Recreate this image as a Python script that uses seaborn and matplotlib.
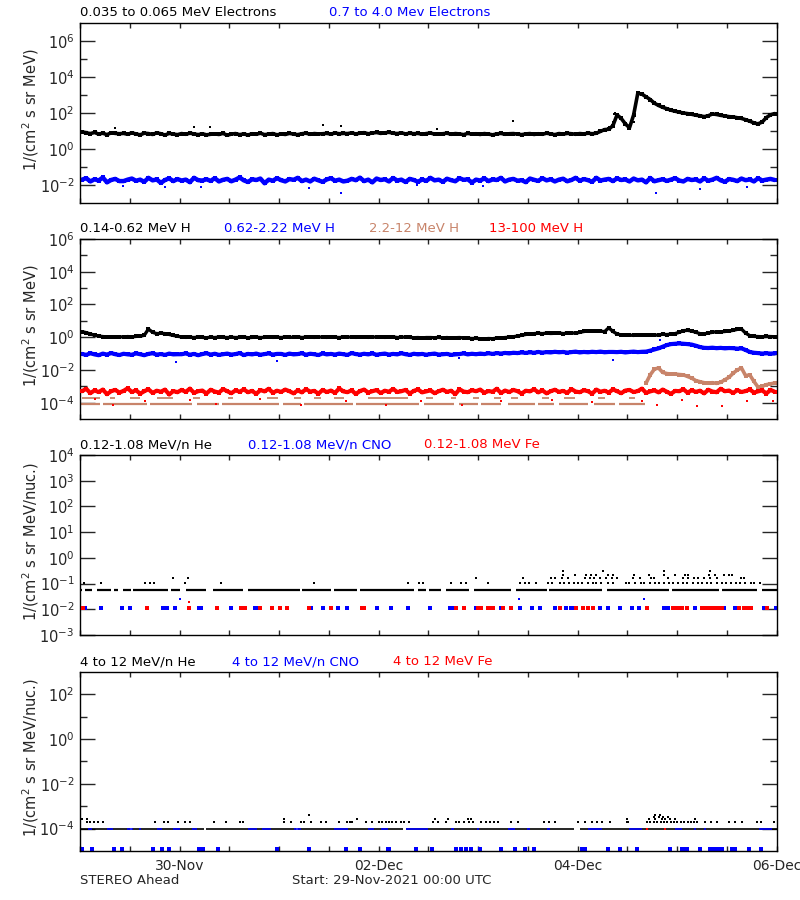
import numpy as np
import pandas as pd
import seaborn as sns
import matplotlib.pyplot as plt
from matplotlib.ticker import FixedLocator, NullFormatter, LogFormatterSciNotation

# hours since 29-Nov-2021 00:00 UTC, 7 days shown
tick_hours = [24, 72, 120, 168]
tick_labels = ["30-Nov", "02-Dec", "04-Dec", "06-Dec"]

# ---- panel 1: electrons, hourly log10 flux ----
e_low = [0.95, 0.9, 0.86, 0.92, 0.83, 0.88, 0.8, 0.9, 0.87, 0.85, 0.87, 0.82,
         0.9, 0.84, 0.79, 0.88, 0.86, 0.81, 0.9, 0.85, 0.78, 0.87, 0.83, 0.8,
         0.86, 0.82, 0.88, 0.84, 0.8, 0.85, 0.79, 0.82, 0.84, 0.81, 0.87, 0.77,
         0.83, 0.86, 0.8, 0.84, 0.78, 0.85, 0.82, 0.88, 0.8, 0.83, 0.86, 0.79,
         0.84, 0.81, 0.87, 0.83, 0.8, 0.85, 0.88, 0.82, 0.86, 0.84, 0.85, 0.87,
         0.83, 0.89, 0.85, 0.87, 0.86, 0.9, 0.84, 0.88, 0.91, 0.85, 0.89, 0.92,
         0.87, 0.9, 0.93, 0.88, 0.86, 0.9, 0.84, 0.88, 0.85, 0.87, 0.82, 0.86,
         0.89, 0.83, 0.84, 0.85, 0.88, 0.82, 0.86, 0.84, 0.8, 0.87, 0.83, 0.85,
         0.81, 0.86, 0.83, 0.79, 0.84, 0.87, 0.82, 0.85, 0.86, 0.83, 0.8, 0.84,
         0.86, 0.81, 0.85, 0.82, 0.88, 0.84, 0.8, 0.86, 0.83, 0.87, 0.85, 0.82,
         0.86, 0.84, 0.88, 0.85,
         0.88, 0.98, 1.08, 1.1, 1.3, 1.9, 1.7, 1.4, 1.18, 1.9,
         3.1, 3.05, 2.9, 2.75, 2.55, 2.42, 2.32, 2.24, 2.16, 2.1,
         2.05, 2.0, 1.97, 1.93, 1.88, 1.85, 1.8, 1.85, 1.95, 1.92,
         1.87, 1.84, 1.8, 1.78, 1.74, 1.7, 1.63, 1.55, 1.45, 1.4,
         1.5, 1.75, 1.9, 1.97]
e_low_out_h = [8.5, 27.5, 31.3, 58.5, 62.9, 86, 104.3,
               127.6, 128.6, 128.8, 129.1, 131.9, 133.7, 133.9, 134.1, 134.3]
e_low_out_v = [1.19, 1.24, 1.2, 1.32, 1.3, 1.1, 1.54,
               1.2, 1.5, 1.95, 2.0, 1.3, 1.5, 2.2, 2.7, 3.0]

e_high = [-1.7, -1.62, -1.8, -1.68, -1.75, -1.58, -1.85, -1.72, -1.66, -1.78, -1.78, -1.7,
          -1.64, -1.76, -1.7, -1.82, -1.6, -1.74, -1.69, -1.88, -1.72, -1.63, -1.78, -1.67,
          -1.75, -1.7, -1.84, -1.6, -1.73, -1.75, -1.68, -1.77, -1.62, -1.8, -1.71, -1.66,
          -1.79, -1.7, -1.58, -1.74, -1.83, -1.68, -1.72, -1.64, -1.9, -1.7, -1.76, -1.62,
          -1.73, -1.8, -1.67, -1.71, -1.6, -1.78, -1.7, -1.8, -1.65, -1.74, -1.82, -1.69,
          -1.62, -1.76, -1.7, -1.8, -1.76, -1.66, -1.73, -1.59, -1.78, -1.7, -1.85, -1.64,
          -1.72, -1.68, -1.8, -1.61, -1.75, -1.7, -1.83, -1.66, -1.72, -1.82, -1.69, -1.77,
          -1.6, -1.74, -1.7, -1.82, -1.65, -1.73, -1.79, -1.62, -1.71, -1.68, -1.86, -1.7,
          -1.75, -1.63, -1.78, -1.69, -1.72, -1.6, -1.8, -1.7, -1.66, -1.76, -1.73, -1.84,
          -1.64, -1.71, -1.77, -1.62, -1.74, -1.68, -1.8, -1.7, -1.65, -1.79, -1.72, -1.6,
          -1.76, -1.67, -1.73, -1.82, -1.6, -1.75, -1.7, -1.66, -1.78, -1.63, -1.72, -1.69,
          -1.8, -1.64, -1.74, -1.7, -1.85, -1.61, -1.79, -1.73, -1.68, -1.77, -1.7, -1.62,
          -1.75, -1.8, -1.66, -1.72, -1.69, -1.8, -1.63, -1.76, -1.7, -1.6, -1.74, -1.82,
          -1.67, -1.71, -1.78, -1.64, -1.73, -1.69, -1.8, -1.62, -1.75, -1.7, -1.66, -1.72]
e_high_out_h = [10.4, 29.2, 55.1, 62.9, 81.3, 139.0, 149.4, 20.5, 97.2, 160.8]
e_high_out_v = [-2.05, -2.1, -2.15, -2.46, -2.0, -2.46, -2.2, -2.1, -2.05, -2.1]

# ---- panel 2: protons, hourly log10 flux ----
h_low = [0.34, 0.28, 0.2, 0.12, 0.07, 0.04, 0.02, 0.03, 0.0, 0.03, 0.01, 0.04,
         0.02, 0.05, 0.06, 0.12, 0.5, 0.3, 0.22, 0.24, 0.22, 0.17, 0.11, 0.06,
         0.02, -0.01, 0.0, -0.02, 0.01, -0.01, -0.03, 0.0, -0.02, 0.01, -0.01, -0.02,
         0.0, -0.02, -0.01, 0.01, -0.03, -0.01, 0.0, -0.02, -0.01, 0.02, -0.01, 0.0,
         -0.02, 0.01, -0.01, 0.0, 0.03, -0.02, 0.01, 0.0, -0.01, 0.02, 0.0, -0.01,
         0.01, 0.0, -0.02, 0.01, 0.0, 0.02, -0.01, 0.0, 0.01, -0.01, 0.02, 0.0,
         0.01, -0.01, 0.0, 0.02, -0.02, 0.0, 0.01, -0.01, -0.03, -0.02, -0.04, -0.02,
         -0.02, -0.03, -0.01, -0.04, -0.02, -0.05, -0.03, -0.02, -0.04, -0.06, -0.08, -0.07,
         -0.09, -0.1, -0.08, -0.09, -0.06, -0.04, -0.02, 0.0, 0.03, 0.07, 0.12, 0.17,
         0.2, 0.22, 0.24, 0.22, 0.25, 0.23, 0.24, 0.26, 0.22, 0.25, 0.27, 0.24,
         0.3, 0.35, 0.38, 0.36, 0.39, 0.37, 0.34, 0.58, 0.35, 0.2, 0.14, 0.12,
         0.13, 0.11, 0.14, 0.12, 0.13, 0.15, 0.12, 0.14, 0.18, 0.16, 0.19, 0.22,
         0.3, 0.4, 0.42, 0.38, 0.3, 0.22, 0.2, 0.26, 0.3, 0.34, 0.33, 0.35,
         0.38, 0.42, 0.48, 0.5, 0.25, 0.1, 0.05, 0.04, 0.03, 0.05, 0.04, 0.03]

h_mid = [-1.02, -1.08, -0.98, -1.05, -1.1, -1.0, -1.06, -0.97, -1.04, -1.09, -1.01, -1.05,
         -1.07, -0.99, -1.04, -1.1, -1.02, -0.98, -1.06, -1.03, -1.08, -1.0, -1.05, -1.04,
         -1.04, -0.99, -1.07, -1.02, -1.1, -1.03, -0.98, -1.06, -1.01, -1.08, -1.04, -1.0,
         -1.06, -1.03, -0.97, -1.09, -1.02, -1.05, -1.0, -1.07, -1.03, -0.99, -1.06, -1.02,
         -1.02, -1.08, -1.0, -1.05, -1.03, -0.98, -1.07, -1.01, -1.04, -1.09, -0.99, -1.05,
         -1.02, -1.06, -1.0, -1.04, -1.08, -0.97, -1.03, -1.06, -1.01, -1.05, -0.99, -1.07,
         -1.03, -1.0, -1.06, -1.02, -1.05, -0.98, -1.04, -1.08, -1.01, -1.05, -1.02, -1.07,
         -1.03, -1.0, -1.06, -1.04, -1.02, -1.08, -1.05, -1.03, -0.99, -1.05, -1.01, -1.04,
         -1.0, -1.03, -0.98, -1.02, -0.97, -1.0, -0.96, -0.99,
         -0.95, -0.97, -0.93, -0.96, -0.92, -0.95, -0.9, -0.94, -0.91, -0.93, -0.89, -0.92,
         -0.9, -0.94, -0.91, -0.88, -0.93, -0.9, -0.92, -0.89, -0.91, -0.88, -0.92, -0.9,
         -0.9, -0.91, -0.89, -0.93, -0.9, -0.88, -0.91, -0.89,
         -0.88, -0.82, -0.75, -0.68, -0.58, -0.48, -0.42, -0.4, -0.38, -0.4, -0.42, -0.45,
         -0.52, -0.6, -0.65, -0.66, -0.64, -0.67, -0.65, -0.68, -0.66, -0.67, -0.7, -0.68,
         -0.78, -0.9, -0.95, -0.97, -1.0, -0.98, -1.0, -0.99]
h_mid_out_h = [23.1, 47.6, 91.5, 128.5, 139.8]
h_mid_out_v = [-1.49, -1.45, -1.3, -1.4, -0.2]

# 2.2-12 MeV H: quiet-time count levels (flux) as hour runs, event hourly from h136
h_hi_lo_level = 8.5e-5
h_hi_lo_runs = [(0, 4.8), (5.6, 16.2), (16.9, 27.1), (28.3, 33.4), (34.3, 47.9), (48.9, 53.2),
                (53.9, 65.8), (66.5, 81.8), (83, 90.2), (91.4, 96), (96.8, 101.6), (103.3, 109.6),
                (110.5, 114.4), (115.6, 122.6), (123.9, 128.9), (129.9, 136.2)]
h_hi_up_level = 1.9e-4
h_hi_up_runs = [(0.5, 4.8), (7.3, 8.5), (12.1, 14.5), (18.6, 22.5), (27.3, 29), (35.6, 37),
                (45.2, 47.7), (51.5, 53.2), (56.4, 58), (61.2, 63.6), (69.4, 79.1), (83.5, 85.1),
                (89.5, 90.7), (94.8, 96.3), (99.9, 101.6), (104, 105.7), (111.3, 113),
                (116.8, 119.3), (125, 126.5), (132.3, 133.8)]
h_hi_event_start = 136
h_hi_event = [-2.8, -2.3, -1.95, -1.88, -2.15, -2.22, -2.25, -2.25, -2.28, -2.3, -2.4, -2.5,
              -2.65, -2.72, -2.78, -2.8, -2.78, -2.82, -2.75, -2.6, -2.45, -2.2, -2.0, -1.88,
              -2.35, -2.3, -2.7, -3.05, -3.0, -2.9, -2.85, -2.8]

h_top = [-3.3, -3.15, -3.42, -3.25, -3.35, -3.2, -3.48, -3.3, -3.22, -3.38, -3.28, -3.12,
         -3.35, -3.24, -3.45, -3.3, -3.18, -3.4, -3.27, -3.33, -3.2, -3.5, -3.29, -3.36,
         -3.22, -3.34, -3.14, -3.4, -3.3, -3.26, -3.44, -3.21, -3.32, -3.38, -3.17, -3.3,
         -3.42, -3.25, -3.33, -3.19, -3.36, -3.28, -3.46, -3.23, -3.31, -3.15, -3.39, -3.27,
         -3.34, -3.2, -3.3, -3.43, -3.25, -3.37, -3.18, -3.32, -3.28, -3.45, -3.22, -3.35,
         -3.26, -3.4, -3.13, -3.31, -3.36, -3.24, -3.47, -3.29, -3.2, -3.38, -3.3, -3.23,
         -3.41, -3.27, -3.33, -3.16, -3.35, -3.3, -3.22, -3.44, -3.28, -3.19, -3.37, -3.31,
         -3.25, -3.42, -3.3, -3.21, -3.34, -3.27, -3.48, -3.18, -3.32, -3.36, -3.24, -3.3,
         -3.2, -3.39, -3.29, -3.33, -3.15, -3.41, -3.26, -3.35, -3.22, -3.3, -3.44, -3.27,
         -3.31, -3.18, -3.37, -3.25, -3.43, -3.3, -3.21, -3.34, -3.28, -3.4, -3.17, -3.32,
         -3.36, -3.24, -3.3, -3.45, -3.2, -3.33, -3.27, -3.38, -3.19, -3.3, -3.42, -3.26,
         -3.22, -3.35, -3.29, -3.14, -3.4, -3.31, -3.25, -3.37, -3.2, -3.33, -3.46, -3.28,
         -3.3, -3.18, -3.39, -3.24, -3.34, -3.27, -3.43, -3.21, -3.32, -3.36, -3.15, -3.3,
         -3.26, -3.41, -3.23, -3.35, -3.29, -3.19, -3.38, -3.31, -3.25, -3.44, -3.22, -3.33]
h_top_low_h = [3.6, 8, 15.7, 26.6, 32.7, 43.5, 53.2, 64.1, 73.8, 82.3, 92, 101.6,
               113.7, 123.4, 135.5, 139.2, 145.1, 148.8, 154.8, 160.9, 167]
h_top_low_v = [-3.8, -4.17, -3.9, -3.85, -4.1, -3.8, -4.15, -3.9, -4.17, -3.9, -4.15, -3.9,
               -3.85, -3.95, -3.9, -4.17, -3.85, -4.2, -4.2, -3.9, -3.9]

# ---- panel 3: 0.12-1.08 MeV/n ions ----
he_base = 0.054
he_base_runs = [(0, 0.5), (1.2, 2.8), (4.0, 7.5), (8.3, 9.2), (10.3, 12.2), (12.9, 21.3), (22, 24.2),
                (25.6, 30.5), (32, 39.3), (40.6, 53), (53.6, 60.5), (61.2, 66.8), (67.5, 80.6),
                (81.5, 83.5), (84.2, 87.1), (88.3, 93.9), (95.1, 104), (105.2, 112.5),
                (113.2, 125.8), (127, 142), (142.7, 154.1), (154.8, 163.3), (164.5, 168)]
he_p11 = [1.0, 5.0, 15.7, 16.9, 17.9, 25.2, 34, 56.4, 79, 81.8, 82.6, 89.5, 91.9, 93.1, 98.4,
          106.2, 107.4, 108.3, 110, 112.8, 113.8, 115.8, 116.7, 117.9, 119.1, 120.2, 121.1,
          122.4, 123.6, 124.5, 125.7, 127.3, 128.6, 131.6, 132.5, 133.9, 135.2, 136.1, 137.4,
          138.7, 139.6, 140.8, 142.1, 143.0, 144.3, 145.5, 146.4, 147.8, 149.0, 150.1, 151.3,
          152.2, 153.5, 154.8, 155.7, 157.0, 158.2, 159.1, 160.4, 161.7, 162.6, 164.0]
he_p16 = [22.5, 26.1, 95.6, 106.8, 113.5, 114.6, 116.2, 117.6, 121.8, 122.9, 124.0, 125.5,
          126.8, 128.3, 129.6, 133.4, 135.0, 137.6, 138.4, 141.9, 145.5, 146.6, 148.0, 149.1,
          150.4, 151.8, 153.6, 159.3, 160.1]
he_p22 = [116.5, 119.3, 121.9, 123.1, 124.4, 127.2, 128.6, 133.5, 137.1, 140.7, 143.5, 145.8,
          146.6, 151.7, 153.0, 155.3, 156.4, 157.1]
he_p32 = [116.5, 126.2, 140.9, 152.0]
heavy_level = 0.0115
cno_h = [1.2, 5, 10.1, 12.1, 19.9, 21, 23, 28.8, 29.2, 36.3, 42.3, 43, 55.6, 58.5, 62.1, 64.5,
         71.7, 75, 79.2, 84.3, 89.1, 89.9, 95.6, 101.6, 106, 108.9, 110.9, 114.5, 117.3, 118.3,
         119.3, 125.4, 127.4, 130.2, 133, 134.7, 140.7, 141.9, 143.1, 148.4, 155.2, 158, 164.9,
         167.8]
cno_up_h = [24, 105.8, 135.9]
cno_up_v = [0.026, 0.026, 0.026]
fe_h = [0.65, 16.1, 26.4, 33, 38.9, 39.9, 43.5, 46.3, 48.2, 49.8, 55.2, 60.5, 68, 68.5, 90.7,
        92.6, 96, 96.8, 98.4, 99.0, 99.6, 102, 104, 115.7, 119.7, 121.4, 122.6, 123.8, 136.7,
        143.1, 143.6, 144.1, 144.6, 145.1, 146.3, 150, 150.6, 151.2, 151.8, 152.4, 153, 153.6,
        154.2, 154.8, 158.9, 160, 160.6, 161.2, 161.7, 165.7]
fe_up_h = [26.4]
fe_up_v = [0.02]

# ---- panel 4: 4-12 MeV/n ions ----
he4_base = 1e-4
he4_runs = [(0, 12), (12.6, 30), (30.5, 52), (52.6, 78), (78.5, 119), (120.5, 168)]
he4_p2 = [1.6, 2.5, 3.4, 4.3, 5.6, 18.1, 20.2, 21.1, 23.6, 25.2, 26.6, 32.2, 35.3, 38.5, 39.3,
          49.2, 50.8, 53.2, 54, 55.6, 58, 59.2, 62.5, 64.5, 65.1, 65.7, 68.9, 70.5, 72.1, 72.9,
          73.7, 74.5, 75.3, 76.1, 77.4, 78.2, 79.4, 85.1, 86.3, 88.3, 90.7, 91.5, 92.6, 93.8,
          94.8, 96.8, 97.8, 98.9, 99.9, 100.8, 104, 105.6, 112, 113.2, 114.5, 120.1, 121.7,
          123.4, 124.6, 125.8, 127.8, 131.8, 132.2, 136.7, 137.5, 138.3, 139.1, 140, 140.8,
          141.6, 142.4, 143.2, 144, 144.9, 145.7, 146.5, 147.3, 148.1, 148.8, 150.8, 152.2,
          153.6, 156.4, 158, 159.7, 163.3, 164.1, 167.4]
he4_p27 = [0.4, 1.6, 49.3, 66.7, 85.6, 88.7, 93.5, 94.4, 131.9, 137.1, 138.6, 140.3, 141.1,
           142.3, 143.5, 148.4]
he4_p34 = [138.3, 139.5, 140.5, 141.9]
he4_p40 = [55.2, 138.7, 139.9]
cno4_runs = [(2, 2.9), (6.5, 8), (11.4, 12.8), (14.2, 14.8), (18.6, 19.8), (22.5, 24.2),
             (27.1, 28.3), (40.4, 42.8), (44, 46), (51.5, 53.2), (61.2, 64.6), (69.4, 70.9),
             (72.6, 74.3), (78.6, 83.9), (89.5, 90.2), (95.7, 96.3), (103.3, 104.8),
             (107.8, 108.4), (112.7, 113.3), (122.6, 125.8), (132.3, 135.5), (143.5, 145.1),
             (148, 148.6), (150.4, 151), (163.8, 166.9)]
cno4_low_level = 1.25e-5
cno4_low_h = [0.4, 2.8, 8.3, 10.1, 17.7, 19.7, 21.5, 28.8, 29.6, 33.3, 47.4, 55.3, 64.1, 67.5,
              74.2, 74.6, 81, 84.8, 90.7, 91.9, 93.1, 94.3, 96.5, 101.6, 104.8, 107.2, 109.5,
              121, 121.7, 127.4, 130.2, 134.3, 142.3, 145.1, 145.7, 146.3, 149.6, 152, 152.9,
              153.9, 154.8, 157.2, 158, 161.3, 164.1]
fe4_h = [136.7, 141.0]

BLACK, BLUE, RED, BROWN = "#000000", "#0000ff", "#ff0000", "#c8846a"


def hourly(vals, start=0):
    v = np.asarray(vals, dtype=float)
    return pd.DataFrame({"hour": start + np.arange(len(v)) + 0.5, "flux": 10.0 ** v})


def logpts(hours, logs):
    return pd.DataFrame({"hour": hours, "flux": 10.0 ** np.asarray(logs, dtype=float)})


def points(hours, flux):
    return pd.DataFrame({"hour": hours, "flux": np.broadcast_to(flux, len(hours))})


def dots(ax, df, color, s=5, z=2):
    sns.scatterplot(data=df, x="hour", y="flux", color=color, marker="s", s=s,
                    linewidth=0, legend=False, ax=ax, zorder=z)


def band(ax, df, color, lw=2.5, s=6, z=2):
    # dense 10-min samples show as a thick fuzzy band: join the hourly readings
    sns.lineplot(data=df, x="hour", y="flux", color=color, linewidth=lw,
                 legend=False, ax=ax, zorder=z)
    dots(ax, df, color, s=s, z=z)


def runs(ax, level, spans, color, lw=1.5, z=2):
    ax.hlines([level] * len(spans), [a for a, b in spans], [b for a, b in spans],
              colors=color, linewidth=lw, zorder=z)


def style(ax, lo, hi, major, minor, ylabel, bottom=False):
    ax.set_yscale("log")
    ax.set_xlim(0, 168)
    ax.set_ylim(10.0 ** lo, 10.0 ** hi)
    ax.yaxis.set_major_locator(FixedLocator(10.0 ** np.array(major, dtype=float)))
    ax.yaxis.set_minor_locator(FixedLocator(10.0 ** np.array(minor, dtype=float)))
    ax.yaxis.set_major_formatter(LogFormatterSciNotation())
    ax.yaxis.set_minor_formatter(NullFormatter())
    ax.set_xticks(tick_hours)
    ax.set_xticks(np.arange(0, 169, 12), minor=True)
    ax.set_xticklabels(tick_labels if bottom else [])
    ax.tick_params(axis="y", which="major", direction="in", left=True, right=True,
                   length=10.8, width=1, labelsize=10.5, pad=4)
    ax.tick_params(axis="y", which="minor", direction="in", left=True, right=True,
                   length=5, width=1)
    ax.tick_params(axis="x", which="both", direction="in", top=True, bottom=True,
                   length=3.6, width=1, labelsize=10, pad=6)
    ax.set_xlabel("")
    ax.set_ylabel(ylabel, fontsize=10.5)
    ax.yaxis.set_label_coords(-0.056, 0.52)
    for sp in ax.spines.values():
        sp.set_visible(True)
        sp.set_linewidth(1.0)
        sp.set_color("black")


def titles(ax, items):
    for xpix, text, color in items:
        ax.annotate(text, xy=((xpix - 80) / 696.7, 1.0), xycoords="axes fraction",
                    xytext=(0, 7.3), textcoords="offset points", va="center", ha="left",
                    color=color, fontsize=9.5)


sns.set_style("ticks")
plt.rcParams["font.family"] = ["DejaVu Sans"]
plt.rcParams["mathtext.default"] = "regular"

fig = plt.figure(figsize=(8, 9), dpi=100)
ax1 = fig.add_axes([0.1, 0.7744, 0.8709, 0.2])
ax2 = fig.add_axes([0.1, 0.5344, 0.8709, 0.2])
ax3 = fig.add_axes([0.1, 0.2944, 0.8709, 0.2])
ax4 = fig.add_axes([0.1, 0.0544, 0.8709, 0.1992])

# panel 1
band(ax1, hourly(e_low), BLACK, lw=2.6)
dots(ax1, logpts(e_low_out_h, e_low_out_v), BLACK, s=4)
band(ax1, hourly(e_high), BLUE, lw=3.2, s=8)
dots(ax1, logpts(e_high_out_h, e_high_out_v), BLUE, s=4)
style(ax1, -3, 7, [-2, 0, 2, 4, 6], [-1, 1, 3, 5], "1/(cm$^2$ s sr MeV)")
titles(ax1, [(80, "0.035 to 0.065 MeV Electrons", BLACK), (329, "0.7 to 4.0 Mev Electrons", BLUE)])

# panel 2
band(ax2, hourly(h_low), BLACK, lw=2.4)
band(ax2, hourly(h_mid), BLUE, lw=3.0)
dots(ax2, logpts(h_mid_out_h, h_mid_out_v), BLUE, s=4)
runs(ax2, h_hi_lo_level, h_hi_lo_runs, BROWN, lw=1.6)
runs(ax2, h_hi_up_level, h_hi_up_runs, BROWN, lw=1.3)
band(ax2, hourly(h_hi_event, h_hi_event_start), BROWN, lw=2.6)
band(ax2, hourly(h_top), RED, lw=3.0, s=8, z=3)
dots(ax2, logpts(h_top_low_h, h_top_low_v), RED, s=4, z=3)
style(ax2, -5, 6, [-4, -2, 0, 2, 4, 6], [-3, -1, 1, 3, 5], "1/(cm$^2$ s sr MeV)")
titles(ax2, [(80, "0.14-0.62 MeV H", BLACK), (224, "0.62-2.22 MeV H", BLUE),
             (369, "2.2-12 MeV H", BROWN), (489, "13-100 MeV H", RED)])

# panel 3
runs(ax3, he_base, he_base_runs, BLACK, lw=1.6)
for hrs, lvl in [(he_p11, 0.11), (he_p16, 0.165), (he_p22, 0.22), (he_p32, 0.32)]:
    dots(ax3, points(hrs, lvl), BLACK, s=4)
dots(ax3, points(cno_h, heavy_level), BLUE, s=5)
dots(ax3, points(cno_up_h, cno_up_v), BLUE, s=4)
dots(ax3, points(fe_h, heavy_level), RED, s=5, z=3)
dots(ax3, points(fe_up_h, fe_up_v), RED, s=4, z=3)
style(ax3, -3, 4, [-3, -2, -1, 0, 1, 2, 3, 4], [], "1/(cm$^2$ s sr MeV/nuc.)")
titles(ax3, [(80, "0.12-1.08 MeV/n He", BLACK), (248, "0.12-1.08 MeV/n CNO", BLUE),
             (424, "0.12-1.08 MeV Fe", RED)])

# panel 4
runs(ax4, he4_base, he4_runs, BLACK, lw=1.2)
runs(ax4, he4_base, cno4_runs, BLUE, lw=1.2, z=3)
for hrs, lvl in [(he4_p2, 1.95e-4), (he4_p27, 2.7e-4), (he4_p34, 3.4e-4), (he4_p40, 4e-4)]:
    dots(ax4, points(hrs, lvl), BLACK, s=4)
dots(ax4, points(cno4_low_h, cno4_low_level), BLUE, s=5)
dots(ax4, points(fe4_h, he4_base), RED, s=4, z=4)
style(ax4, -5, 3, [-4, -2, 0, 2], [-3, -1, 1], "1/(cm$^2$ s sr MeV/nuc.)", bottom=True)
titles(ax4, [(80, "4 to 12 MeV/n He", BLACK), (232, "4 to 12 MeV/n CNO", BLUE),
             (393, "4 to 12 MeV Fe", RED)])

fig.text(80 / 800, 1 - 881 / 900, "STEREO Ahead", fontsize=9.5, va="center", ha="left")
fig.text(292 / 800, 1 - 881 / 900, "Start: 29-Nov-2021 00:00 UTC", fontsize=9.5,
         va="center", ha="left")

fig.savefig("out.png", dpi=100)
